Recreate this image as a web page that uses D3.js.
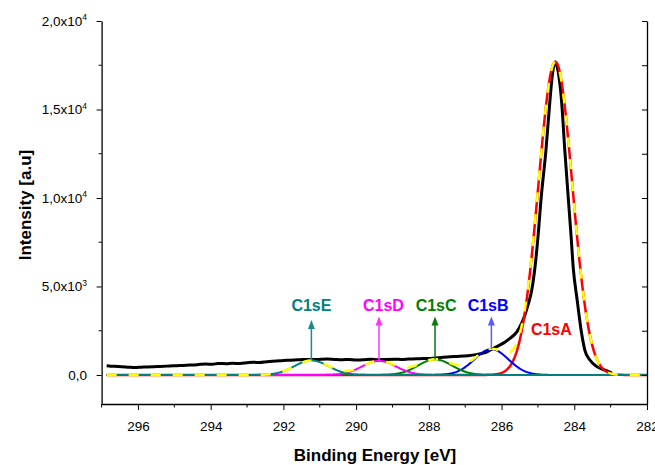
<!DOCTYPE html>
<html>
<head>
<meta charset="utf-8">
<script src="https://cdn.jsdelivr.net/npm/d3@7"></script>
<style>
  body { margin: 0; background: #fff; }
  text { font-family: Arial, "Liberation Sans", sans-serif; }
</style>
</head>
<body>
<script>
// measured C1s spectrum (binding energy in eV, intensity in counts)
const energy = [296.86, 296.65, 296.45, 296.25, 296.10, 295.90, 295.75, 295.55, 295.40, 295.20,
  295.03, 294.85, 294.66, 294.50, 294.29, 294.15, 293.95, 293.80, 293.56, 293.40,
  293.19, 293.00, 292.83, 292.65, 292.46, 292.30, 292.09, 291.90, 291.70, 291.54,
  291.35, 291.15, 290.97, 290.80, 290.60, 290.40, 290.20, 290.00, 289.80, 289.60,
  289.40, 289.20, 288.93, 288.75, 288.55, 288.35, 288.15, 287.94, 287.75, 287.60,
  287.42, 287.20, 286.92, 286.70, 286.55, 286.43, 286.27, 286.13, 285.95, 285.77,
  285.58, 285.45, 285.36, 285.26, 285.17, 285.08, 284.99, 284.92, 284.78, 284.67,
  284.60, 284.525, 284.44, 284.35, 284.26, 284.14, 284.09, 284.03, 283.92, 283.80,
  283.71, 283.57, 283.38, 283.11, 282.97];
const intensity = [525, 490, 470, 440, 420, 440, 455, 470, 480, 500,
  520, 530, 555, 560, 600, 620, 600, 650, 640, 660,
  650, 690, 720, 700, 750, 780, 800, 830, 850, 860,
  880, 870, 890, 900, 880, 860, 880, 850, 860, 890,
  860, 880, 890, 880, 900, 910, 930, 930, 970, 1000,
  1030, 1050, 1090, 1150, 1210, 1280, 1460, 1600, 1800, 2065,
  2440, 2910, 3380, 4040, 4790, 6100, 7980, 9800, 12680, 15490,
  17000, 17690, 17100, 15490, 12680, 9300, 7900, 6100, 4225, 2366,
  1408, 845, 470, 240, 110];

// fitted components (gaussian peaks)
const peakNames = ["C1sA", "C1sB", "C1sC", "C1sD", "C1sE"];
const peakCenters = [284.52, 286.28, 287.83, 289.37, 291.23];
const peakHeights = [17700, 1460, 880, 795, 820];
const peakFwhm = [1.1, 1.1, 1.1, 1.1, 1.1];
const fitRange = [296.86, 282];

const xTicks = [296, 294, 292, 290, 288, 286, 284, 282];
const xMinor = [297, 295, 293, 291, 289, 287, 285, 283];
const yTicks = [0, 5000, 10000, 15000, 20000];
const yTickLabels = [["0,0", ""], ["5,0x10", "3"], ["1,0x10", "4"], ["1,5x10", "4"], ["2,0x10", "4"]];
const yMinor = [2500, 7500, 12500, 17500];

const colors = ["#ff0000", "#0000ff", "#008000", "#ff00ff", "#008080"];
const arrowColors = { C1sB: "#5a5aff", C1sC: "#0a7a0a", C1sD: "#ff33ff", C1sE: "#1a8a8a" };

const width = 655, height = 465;

const svg = d3.select("body").append("svg")
  .attr("width", width)
  .attr("height", height);

const x = d3.scaleLinear().domain([297, 282]).range([101.6, 647]);
const y = d3.scaleLinear().domain([-1640, 20000]).range([404, 21]);

// evaluation grid for the fitted curves
const grid = d3.range(fitRange[0], fitRange[1] - 0.001, -0.02);
function gauss(i, e) {
  const s = peakFwhm[i] / 2.3548;
  return peakHeights[i] * Math.exp(-((e - peakCenters[i]) ** 2) / (2 * s * s));
}

const line = d3.line().x(d => x(d[0])).y(d => y(d[1]));

// measured data
svg.append("path")
  .datum(energy.map((e, i) => [e, intensity[i]]))
  .attr("fill", "none")
  .attr("stroke", "#000")
  .attr("stroke-width", 3)
  .attr("stroke-linejoin", "round")
  .attr("d", line.curve(d3.curveMonotoneX));

// components, A first so E ends up on top
const compLine = d3.line().x(d => x(d[0])).y(d => y(d[1]));
peakNames.forEach((name, i) => {
  svg.append("path")
    .datum(grid.map(e => [e, gauss(i, e)]))
    .attr("fill", "none")
    .attr("stroke", colors[i])
    .attr("stroke-width", i === 0 ? 2.5 : 2)
    .attr("d", compLine);
});

// cumulative fit, yellow dashes
svg.append("path")
  .datum(grid.map(e => [e, d3.sum(peakNames, (n, i) => gauss(i, e))]))
  .attr("fill", "none")
  .attr("stroke", "#ffff00")
  .attr("stroke-width", 2.5)
  .attr("stroke-dasharray", "10,12")
  .attr("d", compLine);

// arrows + labels
const arrowTip = { C1sB: 3300, C1sC: 3300, C1sD: 3300, C1sE: 3100 };
const labelPos = {
  C1sA: [284.63, 2260], C1sB: [286.37, 3620], C1sC: [287.80, 3620],
  C1sD: [289.25, 3620], C1sE: [291.23, 3620]
};

peakNames.forEach((name, i) => {
  if (arrowTip[name]) {
    const ax = x(peakCenters[i]);
    const y0 = y(peakHeights[i]);
    const y1 = y(arrowTip[name]);
    svg.append("line")
      .attr("x1", ax).attr("x2", ax)
      .attr("y1", y0).attr("y2", y1 + 6)
      .attr("stroke", arrowColors[name])
      .attr("stroke-width", 1.5);
    svg.append("path")
      .attr("d", `M${ax},${y1} L${ax - 3.5},${y1 + 9} L${ax + 3.5},${y1 + 9} Z`)
      .attr("fill", arrowColors[name]);
  }
  svg.append("text")
    .attr("x", x(labelPos[name][0]))
    .attr("y", y(labelPos[name][1]))
    .attr("text-anchor", "middle")
    .attr("font-size", 16)
    .attr("font-weight", "bold")
    .attr("fill", colors[i])
    .text(name);
});

// axes
const gx = svg.append("g")
  .attr("transform", `translate(0,${y.range()[0]})`)
  .call(d3.axisBottom(x).tickValues(xTicks).tickSize(6).tickSizeOuter(0).tickFormat(d3.format("d")));
gx.selectAll(".tick text").attr("y", 26.5).attr("dy", null).attr("font-size", 13.5);
gx.selectAll(".minor")
  .data(xMinor).enter().append("line")
  .attr("x1", d => x(d)).attr("x2", d => x(d))
  .attr("y1", 0).attr("y2", 3.5)
  .attr("stroke", "#000");

const gy = svg.append("g")
  .attr("transform", `translate(${x.range()[0]},0)`)
  .call(d3.axisLeft(y).tickValues(yTicks).tickSize(5).tickSizeOuter(0));
gy.selectAll(".tick text").each(function(d, i) {
  const t = d3.select(this).text(null)
    .attr("x", -14.5).attr("font-size", 13.5);
  t.append("tspan").text(yTickLabels[i][0]);
  if (yTickLabels[i][1]) {
    t.append("tspan").attr("dy", -5.5).attr("font-size", 8.5).text(yTickLabels[i][1]);
  }
});
gy.selectAll(".minor")
  .data(yMinor).enter().append("line")
  .attr("x1", 0).attr("x2", -3)
  .attr("y1", d => y(d)).attr("y2", d => y(d))
  .attr("stroke", "#000");

// right axis, inward ticks, no labels
svg.append("g")
  .attr("transform", `translate(${x.range()[1]},0)`)
  .call(d3.axisLeft(y).tickValues(yTicks.concat(yMinor)).tickSize(5).tickSizeOuter(0).tickFormat(""));

svg.selectAll(".domain").attr("stroke-width", 1.3);

// titles
svg.append("text")
  .attr("x", 375).attr("y", 461)
  .attr("text-anchor", "middle")
  .attr("font-size", 17)
  .attr("font-weight", "bold")
  .text("Binding Energy [eV]");

svg.append("text")
  .attr("transform", "translate(31,205) rotate(-90)")
  .attr("text-anchor", "middle")
  .attr("font-size", 17)
  .attr("font-weight", "bold")
  .text("Intensity [a.u]");
</script>
</body>
</html>
